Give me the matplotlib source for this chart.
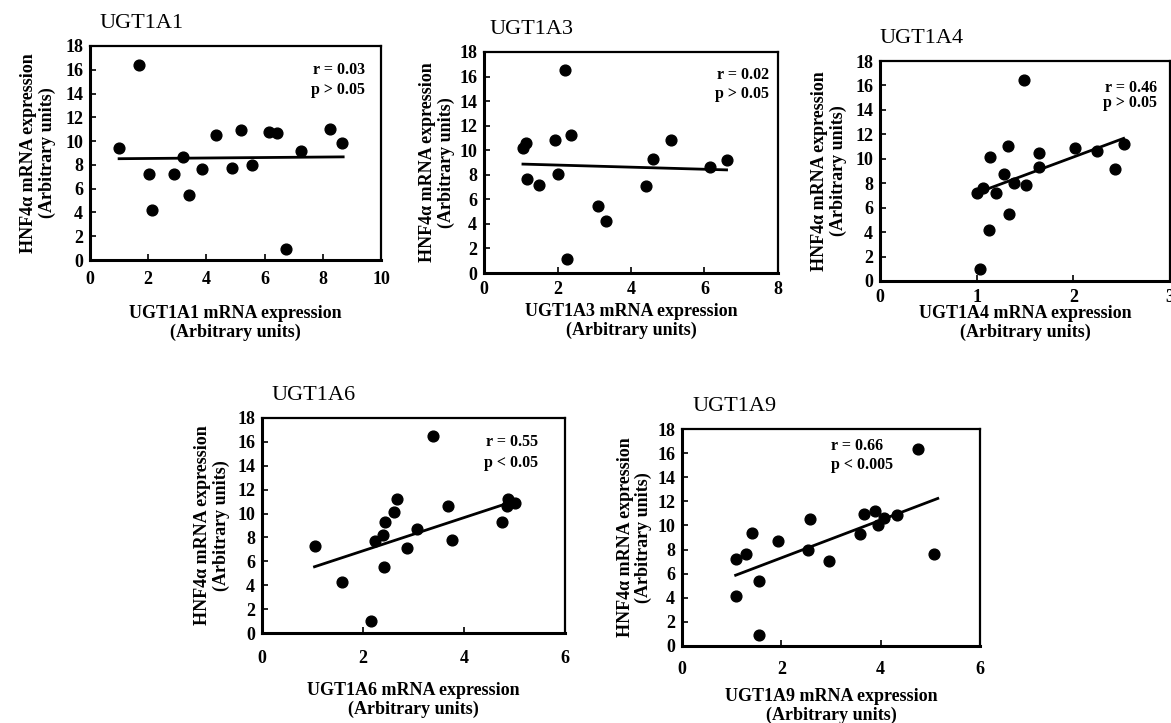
import numpy as np
import matplotlib
matplotlib.use("Agg")
import matplotlib.pyplot as plt

plt.rcParams['font.family'] = ['Liberation Serif', 'DejaVu Serif']

# data
genes = ["UGT1A1", "UGT1A3", "UGT1A4", "UGT1A6", "UGT1A9"]

x_1a1 = [0.98, 1.70, 2.03, 2.12, 2.89, 3.21, 3.40, 3.84, 4.32, 4.89, 5.18, 5.56, 6.15, 6.44, 6.75, 7.24, 8.25, 8.65]
y_1a1 = [9.45, 16.4, 7.25, 4.2, 7.2, 8.7, 5.5, 7.66, 10.5, 7.75, 10.97, 8.0, 10.77, 10.65, 0.9, 9.2, 11.05, 9.86]

x_1a3 = [1.06, 1.13, 1.18, 1.49, 1.92, 2.01, 2.21, 2.38, 2.27, 3.10, 3.31, 4.42, 4.60, 5.10, 6.14, 6.60]
y_1a3 = [10.16, 10.6, 7.64, 7.2, 10.8, 8.05, 16.5, 11.2, 1.1, 5.44, 4.2, 7.09, 9.29, 10.85, 8.6, 9.23]

x_1a4 = [1.00, 1.03, 1.07, 1.14, 1.13, 1.20, 1.28, 1.32, 1.33, 1.39, 1.49, 1.51, 1.64, 1.64, 2.02, 2.24, 2.43, 2.52]
y_1a4 = [7.16, 0.98, 7.57, 10.16, 4.15, 7.21, 8.74, 11.04, 5.52, 7.98, 16.45, 7.84, 10.5, 9.34, 10.85, 10.63, 9.2, 11.2]

x_1a6 = [1.04, 1.58, 2.15, 2.24, 2.40, 2.44, 2.42, 2.61, 2.68, 2.88, 3.06, 3.39, 3.68, 3.77, 4.75, 4.85, 4.88, 5.00]
y_1a6 = [7.28, 4.23, 1.0, 7.73, 8.2, 9.33, 5.49, 10.1, 11.2, 7.14, 8.74, 16.47, 10.64, 7.79, 9.33, 10.64, 11.2, 10.87]

x_1a9 = [1.08, 1.09, 1.28, 1.40, 1.56, 1.56, 1.93, 2.58, 2.54, 2.96, 3.59, 3.66, 3.89, 3.95, 4.06, 4.32, 4.75, 5.08]
y_1a9 = [7.23, 4.13, 7.59, 9.39, 5.43, 0.94, 8.75, 10.5, 8.0, 7.04, 9.31, 10.97, 11.19, 10.03, 10.64, 10.83, 16.32, 7.59]

# regression lines as drawn in the figure: slope, intercept, x range
fit_slope = [0.02, -0.085, 2.94, 1.39, 1.565]
fit_icpt = [8.5, 8.96, 4.26, 4.1, 4.18]
fit_xmin = [1.0, 1.06, 1.0, 1.04, 1.08]
fit_xmax = [8.7, 6.6, 2.52, 4.95, 5.15]

r_text = ["r = 0.03", "r = 0.02", "r = 0.46", "r = 0.55", "r = 0.66"]
p_text = ["p > 0.05", "p > 0.05", "p > 0.05", "p < 0.05", "p < 0.005"]
x_max = [10, 8, 3, 6, 6]
x_ticks = [[0, 2, 4, 6, 8, 10], [0, 2, 4, 6, 8], [0, 1, 2, 3], [0, 2, 4, 6], [0, 2, 4, 6]]
y_ticks = list(range(0, 19, 2))

xs = [x_1a1, x_1a3, x_1a4, x_1a6, x_1a9]
ys = [y_1a1, y_1a3, y_1a4, y_1a6, y_1a9]

# layout (pixels measured on the 1171x723 scan)
W, H = 1171, 723
boxes = [(90, 46, 381, 260), (484, 52, 778, 273), (880, 61, 1170, 281),
         (262, 418, 565, 633), (682, 429, 980, 646)]
xpads = [8, 6, 6, 12, 10.5]
xlab_y = [-0.21, -0.136, -0.11, -0.228, -0.194]
ylab_x = [-0.117, -0.099, -0.114, -0.106, -0.10]
title_x = [0.034, 0.02, 0.0, 0.033, 0.034]
ann = [(0.945, 0.89, 0.795, 'right'), (0.97, 0.895, 0.81, 'right'),
       (0.955, 0.877, 0.81, 'right'), (0.91, 0.89, 0.79, 'right'),
       (0.50, 0.92, 0.835, 'left')]

fig = plt.figure(figsize=(11.71, 7.23), dpi=100)

for i in range(5):
    l, t, r, b = boxes[i]
    ax = fig.add_axes([l / W, (H - b) / H, (r - l) / W, (b - t) / H])

    ax.scatter(xs[i], ys[i], s=60, color="black", zorder=3)
    fx = np.array([fit_xmin[i], fit_xmax[i]])
    ax.plot(fx, fit_slope[i] * fx + fit_icpt[i], color="black", lw=2)

    ax.set_xlim(0, x_max[i])
    ax.set_ylim(0, 18)
    ax.set_xticks(x_ticks[i])
    ax.set_yticks(y_ticks)
    ax.tick_params(direction="in", length=4, width=1.2, labelsize=13)
    ax.tick_params(axis="x", pad=xpads[i])
    ax.tick_params(axis="y", pad=5)
    for lab in ax.get_xticklabels() + ax.get_yticklabels():
        lab.set_fontweight("bold")
    for sp in ax.spines.values():
        sp.set_linewidth(1.6)
    ax.spines["left"].set_linewidth(2.2)
    ax.spines["bottom"].set_linewidth(2.2)

    ax.set_xlabel(genes[i] + " mRNA expression\n(Arbitrary units)",
                  fontsize=13, fontweight="bold", linespacing=1.1)
    ax.xaxis.set_label_coords(0.5, xlab_y[i])
    ax.set_ylabel("HNF4\u03b1 mRNA expression\n(Arbitrary units)",
                  fontsize=13, fontweight="bold", linespacing=1.1)
    ax.yaxis.set_label_coords(ylab_x[i], 0.5)

    ax.text(title_x[i], 1.06, genes[i], transform=ax.transAxes,
            fontsize=16, ha="left", va="bottom")

    ax_x, ry, py, ha = ann[i]
    ax.text(ax_x, ry, r_text[i], transform=ax.transAxes, fontsize=11.5,
            fontweight="bold", ha=ha, va="center")
    ax.text(ax_x, py, p_text[i], transform=ax.transAxes, fontsize=11.5,
            fontweight="bold", ha=ha, va="center")

plt.savefig("out.png", dpi=100)
